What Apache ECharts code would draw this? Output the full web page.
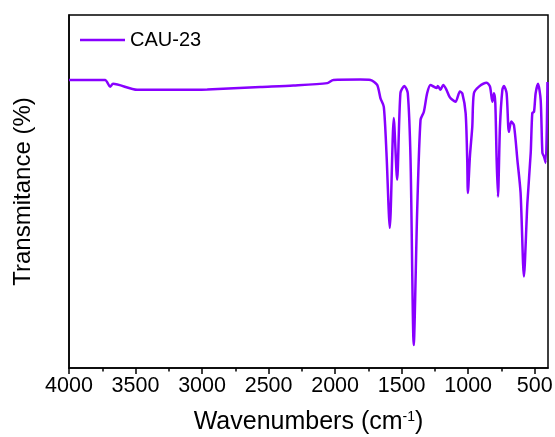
<!DOCTYPE html>
<html><head><meta charset="utf-8">
<script src="https://cdn.jsdelivr.net/npm/echarts@6/dist/echarts.min.js"></script>
<style>html,body{margin:0;padding:0;background:#fff}#c{width:555px;height:437px}</style>
</head><body><div id="c"></div>
<script>
const seriesName = 'CAU-23';
const wavenumbers = [4000,3729,3691,3669,3488,3187,2961,2562,2314,2058,2013,1810,1734,1684,1659,1634,1614,1589,1559,1534,1509,1479,1454,1433,1409,1383,1358,1333,1308,1283,1258,1238,1228,1208,1187,1163,1138,1095,1062,1044,1019,1007,1002,987,969,957,919,861,836,818,806,796,786,776,761,743,731,711,694,676,656,630,606,581,555,530,518,505,493,475,455,442,430,417,404];
const transmittance = [81.6,81.6,79.7,80.5,78.8,78.8,78.9,79.6,80.0,80.7,81.6,81.7,81.6,80.2,76.4,74.0,60.9,39.7,70.8,53.3,77.9,79.9,77.9,58.9,6.5,44.8,70.3,72.6,77.9,80.2,79.7,79.3,79.9,78.8,80.2,78.8,76.7,75.4,78.3,77.8,72.2,58.9,49.6,59.9,68.4,77.8,79.7,80.8,79.7,75.4,77.8,75.0,58.9,48.5,68.4,78.8,79.9,77.8,66.9,69.8,68.8,58.9,49.6,25.9,46.7,60.9,72.2,72.6,77.8,80.5,75.9,60.9,59.9,58.1,81.0];
const majorTicks = [4000,3500,3000,2500,2000,1500,1000,500];
const minorTicks = [3750,3250,2750,2250,1750,1250,750];

const data = wavenumbers.map((w,i)=>[w, transmittance[i]]);
const font = 'Liberation Sans, Arial, sans-serif';
const chart = echarts.init(document.getElementById('c'), null, {renderer:'canvas'});
chart.setOption({
  animation:false,
  grid:{left:69,right:7,top:15,bottom:69,show:true,borderColor:'#000',borderWidth:1.5,
    backgroundColor:'transparent',containLabel:false,outerBoundsMode:'none'},
  legend:{left:75,top:25,icon:'rect',itemWidth:45,itemHeight:2.5,itemGap:5,
    textStyle:{fontFamily:font,fontSize:20,color:'#000',padding:[0,0,0,0]},data:[seriesName]},
  xAxis:[{
    type:'value',inverse:true,min:400,max:4000,
    axisLine:{show:true,lineStyle:{color:'#000',width:1.5}},
    axisTick:{show:true,inside:false,length:6,lineStyle:{color:'#000',width:1.5},customValues:majorTicks},
    axisLabel:{show:true,fontFamily:font,fontSize:21.5,color:'#000',margin:7,customValues:majorTicks,
      formatter:(v)=>String(v)},
    splitLine:{show:false},
    name:'Wavenumbers (cm{sup|-1})',nameLocation:'middle',nameGap:42,
    nameTextStyle:{fontFamily:font,fontSize:25,color:'#000',
      rich:{sup:{fontFamily:font,fontSize:14,verticalAlign:'top',padding:[0,0,10,0],color:'#000'}}}
  },{
    type:'value',inverse:true,min:400,max:4000,position:'bottom',
    axisLine:{show:false},
    axisTick:{show:true,length:3.5,lineStyle:{color:'#000',width:1.5},customValues:minorTicks},
    axisLabel:{show:false},splitLine:{show:false}
  }],
  yAxis:{type:'value',min:0,max:100,
    axisLine:{show:true,lineStyle:{color:'#000',width:1.5}},
    axisTick:{show:false},axisLabel:{show:false},splitLine:{show:false},
    name:'Transmitance (%)',nameLocation:'middle',nameGap:34,
    nameTextStyle:{fontFamily:font,fontSize:24,color:'#000'}},
  series:[{name:seriesName,type:'line',data:data,symbol:'none',smooth:0.25,
    lineStyle:{color:'#8800ff',width:2.5},itemStyle:{color:'#8800ff'}}]
});
</script></body></html>
